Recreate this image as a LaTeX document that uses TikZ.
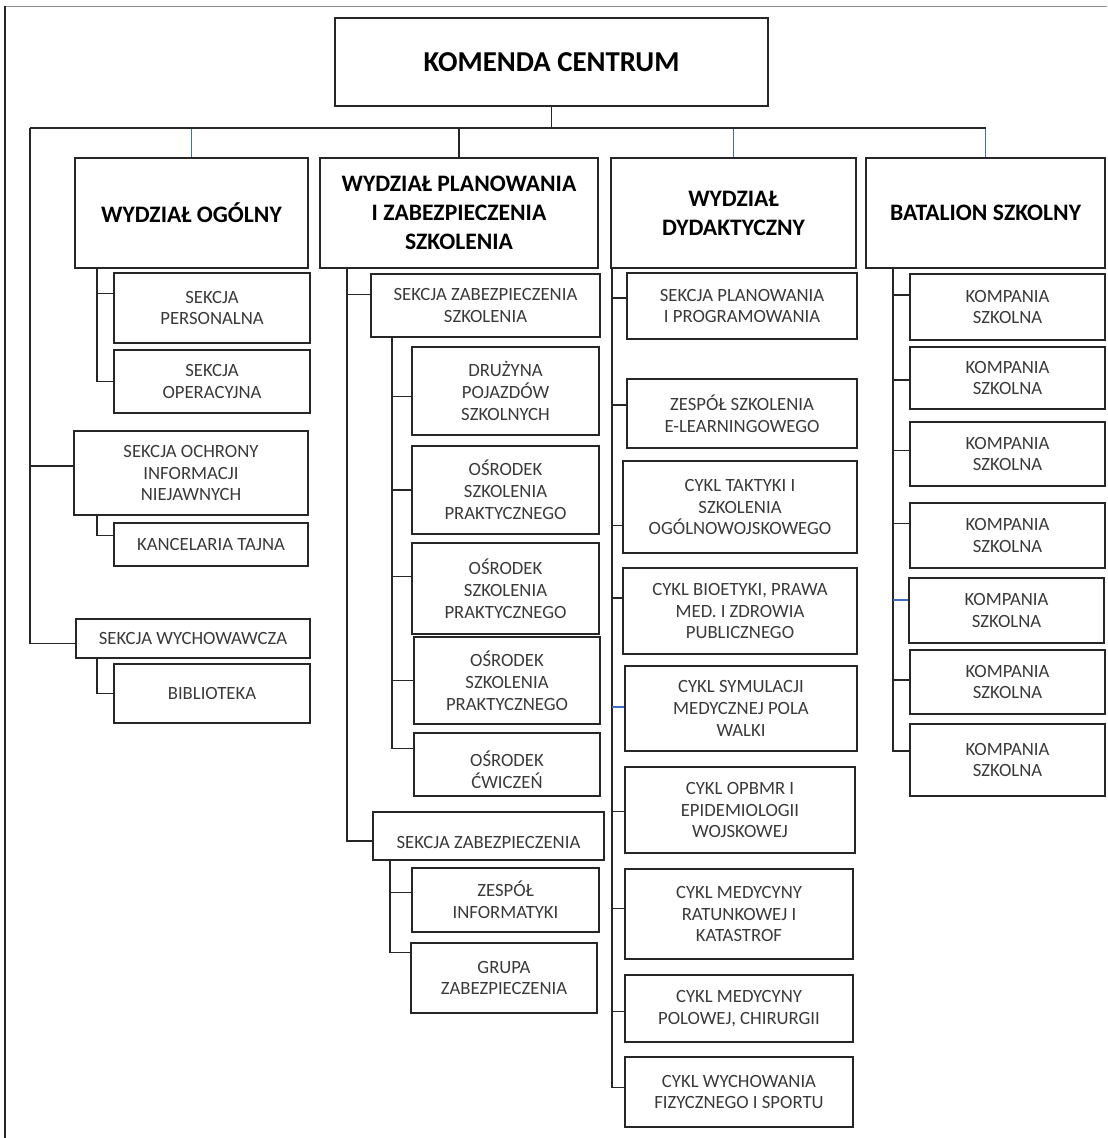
\documentclass[tikz,border=0pt]{standalone}
\usepackage{fontspec}
\setmainfont{Carlito}
\usepackage{xcolor}
\usepackage{tikz}
\usetikzlibrary{positioning, calc}
\definecolor{boxline}{RGB}{38, 38, 38}
\definecolor{unittext}{RGB}{58, 58, 58}
\definecolor{linkblue}{RGB}{60, 110, 200}
\definecolor{framegray}{RGB}{140, 140, 140}
\newcommand{\unitfont}{\fontsize{13.3}{15.6}\selectfont}
\newcommand{\headfont}{\fontsize{16.8}{20.6}\selectfont\bfseries}
\newcommand{\topfont}{\fontsize{20.5}{24}\selectfont\bfseries}
\tikzset{
  x=0.025cm, y=-0.025cm,
  unitbox/.style={
    rectangle, draw=boxline, line width=1.2pt, inner sep=0pt,
    align=center, font=\unitfont, text=unittext
  },
  headbox/.style={unitbox, font=\headfont, text=black},
  % box from its corners (x1,y1) to (x2,y2)
  cell/.style n args={4}{
    minimum width={(#3-#1)*0.025cm}, minimum height={(#4-#2)*0.025cm},
    at={({(#1+#3)/2},{(#2+#4)/2})}
  },
  orgline/.style={draw=boxline, line width=1pt},
  blueline/.style={draw=linkblue, line width=1.3pt}
}
\begin{document}
\begin{tikzpicture}

  \useasboundingbox (0,0) rectangle (1107,1138);
  % page frame
  \draw[framegray, line width=1.4pt] (5,6.5) -- (1107,6.5);
  \draw[boxline, line width=1.4pt] (5,6) -- (5,1138);

  % Top: Komenda
  \node[headbox, font=\topfont, cell={335}{18}{768}{106}] (kom) {KOMENDA CENTRUM};

  % Level 1
  \node[headbox, cell={75}{158}{308}{268}] (ogol) {WYDZIAŁ OGÓLNY};
  \node[headbox, cell={320}{158}{598}{268}] (plan) {WYDZIAŁ PLANOWANIA\\I ZABEZPIECZENIA\\SZKOLENIA};
  \node[headbox, cell={611}{158}{856}{268}] (dyda) {WYDZIAŁ\\DYDAKTYCZNY};
  \node[headbox, cell={866}{158}{1105}{268}] (bata) {BATALION SZKOLNY};

  % Column 1: Wydzial Ogolny
  \node[unitbox, cell={114}{273}{310}{343}] (sper) {SEKCJA\\PERSONALNA};
  \node[unitbox, cell={114}{350}{310}{413}] (sope) {SEKCJA\\OPERACYJNA};
  \node[unitbox, cell={74}{431}{308}{515}] (ochr) {SEKCJA OCHRONY\\INFORMACJI\\NIEJAWNYCH};
  \node[unitbox, cell={114}{523}{308}{566}] (kanc) {KANCELARIA TAJNA};
  \node[unitbox, cell={76}{619}{310}{658}] (wych) {SEKCJA WYCHOWAWCZA};
  \node[unitbox, cell={114}{664}{310}{723}] (bibl) {BIBLIOTEKA};

  % Column 2: Wydzial Planowania
  \node[unitbox, cell={371}{274}{600}{337}] (szsz) {SEKCJA ZABEZPIECZENIA\\SZKOLENIA};
  \node[unitbox, cell={412}{347}{599}{435}] (druz) {DRUŻYNA\\POJAZDÓW\\SZKOLNYCH};
  \node[unitbox, cell={412}{446}{599}{534}] (osr1) {OŚRODEK\\SZKOLENIA\\PRAKTYCZNEGO};
  \node[unitbox, cell={412}{543}{599}{634}] (osr2) {OŚRODEK\\SZKOLENIA\\PRAKTYCZNEGO};
  \node[unitbox, cell={414}{637}{600}{724}] (osr3) {OŚRODEK\\SZKOLENIA\\PRAKTYCZNEGO};
  \node[unitbox, cell={414}{733}{600}{796}] (cwic) {};
  \begin{scope}
    \clip (cwic.north west) rectangle (600,788);
    \node[font=\unitfont, text=unittext, align=center] (cwict) at (507,770) {OŚRODEK\\ĆWICZEŃ};
  \end{scope}
  \node[unitbox, cell={373}{812}{604}{860}, text height=18pt, text depth=0pt] (szab) {SEKCJA ZABEZPIECZENIA};
  \node[unitbox, cell={412}{868}{599}{932}] (info) {ZESPÓŁ\\INFORMATYKI};
  \node[unitbox, cell={411}{943}{597}{1013}] (grup) {GRUPA\\ZABEZPIECZENIA};

  % Column 3: Wydzial Dydaktyczny
  \node[unitbox, cell={627}{273}{857}{339}] (sppr) {SEKCJA PLANOWANIA\\I PROGRAMOWANIA};
  \node[unitbox, cell={627}{379}{857}{448}] (elea) {ZESPÓŁ SZKOLENIA\\E-LEARNINGOWEGO};
  \node[unitbox, cell={623}{461}{857}{553}] (takt) {CYKL TAKTYKI I\\SZKOLENIA\\OGÓLNOWOJSKOWEGO};
  \node[unitbox, cell={623}{568}{857}{654}] (bioe) {CYKL BIOETYKI, PRAWA\\MED. I ZDROWIA\\PUBLICZNEGO};
  \node[unitbox, cell={625}{666}{857}{751}] (symu) {CYKL SYMULACJI\\MEDYCZNEJ POLA\\WALKI};
  \node[unitbox, cell={625}{767}{855}{853}] (opbm) {CYKL OPBMR I\\EPIDEMIOLOGII\\WOJSKOWEJ};
  \node[unitbox, cell={625}{869}{853}{959}] (ratu) {CYKL MEDYCYNY\\RATUNKOWEJ I\\KATASTROF};
  \node[unitbox, cell={625}{975}{853}{1042}] (polo) {CYKL MEDYCYNY\\POLOWEJ, CHIRURGII};
  \node[unitbox, cell={625}{1057}{853}{1127}] (wfiz) {CYKL WYCHOWANIA\\FIZYCZNEGO I SPORTU};

  % Column 4: Batalion Szkolny
  \node[unitbox, cell={910}{274}{1105}{340}] (komp1) {KOMPANIA\\SZKOLNA};
  \node[unitbox, cell={910}{347}{1105}{409}] (komp2) {KOMPANIA\\SZKOLNA};
  \node[unitbox, cell={910}{422}{1105}{486}] (komp3) {KOMPANIA\\SZKOLNA};
  \node[unitbox, cell={910}{503}{1105}{568}] (komp4) {KOMPANIA\\SZKOLNA};
  \node[unitbox, cell={909}{578}{1104}{643}] (komp5) {KOMPANIA\\SZKOLNA};
  \node[unitbox, cell={910}{650}{1105}{714}] (komp6) {KOMPANIA\\SZKOLNA};
  \node[unitbox, cell={910}{724}{1105}{796}] (komp7) {KOMPANIA\\SZKOLNA};

  % bus from Komenda
  \coordinate (busL) at (30,128);
  \coordinate (busR) at (bata.north |- busL);
  \draw[orgline] (kom.south) -- (kom.south |- busL);
  \draw[blueline] (ogol.north) -- (ogol.north |- busL);
  \draw[blueline] (dyda.north) -- (dyda.north |- busL);
  \draw[blueline] (bata.north) -- (busR);
  \draw[orgline] (busL) -- (busR);
  \draw[orgline] (plan.north) -- (plan.north |- busL);
  \draw[orgline] (busL) |- ($(ochr.north west)!0.42!(ochr.south west)$);
  \draw[orgline] (busL) |- ($(wych.north west)!0.62!(wych.south west)$);

  % trunks
  \coordinate (ogT) at (ogol.south -| 97,0);
  \coordinate (ochT) at (ochr.south -| 97,0);
  \coordinate (wyT) at (wych.south -| 97,0);
  \coordinate (plT) at (plan.south -| 347,0);
  \coordinate (szT) at (szsz.south -| 392,0);
  \coordinate (sabT) at (szab.south -| 390,0);
  \coordinate (dyT) at (dyda.south -| 612,0);
  \coordinate (baT) at (bata.south -| 893,0);

  \draw[orgline] (ogT) |- ($(sper.north west)!0.3!(sper.south west)$);
  \draw[orgline] (ogT) |- (sope.west);
  \draw[orgline] (ochT) |- ($(kanc.north west)!0.3!(kanc.south west)$);
  \draw[orgline] (wyT) |- (bibl.west);

  \draw[orgline] (plT) |- ($(szsz.north west)!0.33!(szsz.south west)$);
  \draw[orgline] (plT) |- ($(szab.north west)!0.6!(szab.south west)$);
  \draw[orgline] (szT) |- ($(druz.north west)!0.56!(druz.south west)$);
  \draw[orgline] (szT) |- (osr1.west);
  \draw[orgline] (szT) |- ($(osr2.north west)!0.37!(osr2.south west)$);
  \draw[orgline] (szT) |- (osr3.west);
  \draw[orgline] (szT) |- ($(cwic.north west)!0.25!(cwic.south west)$);
  \draw[orgline] (sabT) |- ($(info.north west)!0.39!(info.south west)$);
  \draw[orgline] (sabT) |- ($(grup.north west)!0.14!(grup.south west)$);

  \draw[orgline] (dyT) |- ($(sppr.north west)!0.38!(sppr.south west)$);
  \draw[orgline] (dyT) |- ($(elea.north west)!0.38!(elea.south west)$);
  \draw[orgline] (dyT) |- ($(takt.north west)!0.7!(takt.south west)$);
  \draw[orgline] (dyT) |- ($(bioe.north west)!0.35!(bioe.south west)$);
  \draw[orgline] (dyT) |- ($(opbm.north west)!0.52!(opbm.south west)$);
  \draw[orgline] (dyT) |- ($(ratu.north west)!0.44!(ratu.south west)$);
  \draw[orgline] (dyT) |- ($(polo.north west)!0.54!(polo.south west)$);
  \draw[orgline] (dyT) |- ($(wfiz.north west)!0.44!(wfiz.south west)$);
  \path ($(symu.north west)!0.48!(symu.south west)$) coordinate (symuC);
  \draw[blueline] (symuC -| dyT) -- (symuC);

  \draw[orgline] (baT) |- ($(komp1.north west)!0.32!(komp1.south west)$);
  \draw[orgline] (baT) |- ($(komp2.north west)!0.53!(komp2.south west)$);
  \draw[orgline] (baT) |- ($(komp3.north west)!0.45!(komp3.south west)$);
  \draw[orgline] (baT) |- ($(komp4.north west)!0.32!(komp4.south west)$);
  \draw[orgline] (baT) |- ($(komp6.north west)!0.47!(komp6.south west)$);
  \draw[orgline] (baT) |- ($(komp7.north west)!0.375!(komp7.south west)$);
  \path ($(komp5.north west)!0.34!(komp5.south west)$) coordinate (komp5C);
  \draw[blueline] (komp5C -| baT) -- (komp5C);

\end{tikzpicture}
\end{document}
